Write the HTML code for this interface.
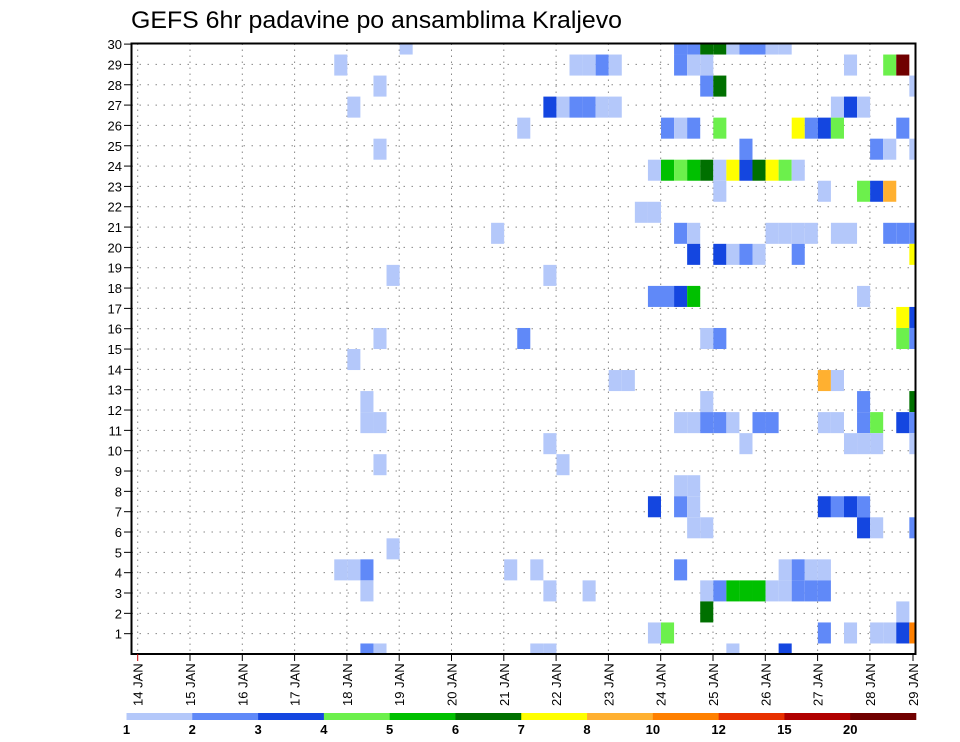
<!DOCTYPE html>
<html><head><meta charset="utf-8"><title>GEFS 6hr padavine</title>
<style>html,body{margin:0;padding:0;background:#fff;}svg{display:block;font-family:"Liberation Sans",sans-serif;}</style>
</head><body>
<svg id="chart" width="960" height="742" viewBox="0 0 960 742" xmlns="http://www.w3.org/2000/svg">
<text x="131" y="28" font-size="24" textLength="491" lengthAdjust="spacingAndGlyphs" fill="#000">GEFS 6hr padavine po ansamblima Kraljevo</text>
<defs><clipPath id="plotclip"><rect x="131.5" y="43.5" width="784" height="610.5"/></clipPath></defs>
<g id="grid"></g>
<g id="cells" clip-path="url(#plotclip)"></g>
<rect x="131.5" y="43.5" width="784" height="610.5" fill="none" stroke="#000" stroke-width="2"/>
<g id="yaxis"></g>
<g id="xaxis"></g>
<g id="legend"></g>
</svg>
<script>
// member, 6h-step index, colour level
const cells = [
[30,20,1],[30,41,2],[30,42,2],[30,43,6],[30,44,6],[30,45,1],[30,46,2],[30,47,2],[30,48,1],[30,49,1],
[29,15,1],[29,33,1],[29,34,1],[29,35,2],[29,36,1],[29,41,2],[29,42,1],[29,43,1],[29,54,1],[29,57,4],[29,58,12],
[28,18,1],[28,43,2],[28,44,6],[28,59,1],
[27,16,1],[27,31,3],[27,32,1],[27,33,2],[27,34,2],[27,35,1],[27,36,1],[27,53,1],[27,54,3],[27,55,1],
[26,29,1],[26,40,2],[26,41,1],[26,42,2],[26,44,4],[26,50,7],[26,51,2],[26,52,3],[26,53,4],[26,58,2],
[25,18,1],[25,46,2],[25,56,2],[25,57,1],[25,59,1],
[24,39,1],[24,40,5],[24,41,4],[24,42,5],[24,43,6],[24,44,1],[24,45,7],[24,46,3],[24,47,6],[24,48,7],[24,49,4],[24,50,1],
[23,44,1],[23,52,1],[23,55,4],[23,56,3],[23,57,8],
[22,38,1],[22,39,1],
[21,27,1],[21,41,2],[21,42,1],[21,48,1],[21,49,1],[21,50,1],[21,51,1],[21,53,1],[21,54,1],[21,57,2],[21,58,2],[21,59,2],
[20,42,3],[20,44,3],[20,45,1],[20,46,2],[20,47,1],[20,50,2],[20,59,7],
[19,19,1],[19,31,1],
[18,39,2],[18,40,2],[18,41,3],[18,42,5],[18,55,1],
[17,58,7],[17,59,3],
[16,18,1],[16,29,2],[16,43,1],[16,44,2],[16,58,4],[16,59,2],
[15,16,1],
[14,36,1],[14,37,1],[14,52,8],[14,53,1],
[13,17,1],[13,43,1],[13,55,2],[13,59,6],
[12,17,1],[12,18,1],[12,41,1],[12,42,1],[12,43,2],[12,44,2],[12,45,1],[12,47,2],[12,48,2],[12,52,1],[12,53,1],[12,55,2],[12,56,4],[12,58,3],[12,59,2],
[11,31,1],[11,46,1],[11,54,1],[11,55,1],[11,56,1],[11,59,1],
[10,18,1],[10,32,1],
[9,41,1],[9,42,1],
[8,39,3],[8,41,2],[8,42,1],[8,52,3],[8,53,2],[8,54,3],[8,55,2],
[7,42,1],[7,43,1],[7,55,3],[7,56,1],[7,59,2],
[6,19,1],
[5,15,1],[5,16,1],[5,17,2],[5,28,1],[5,30,1],[5,41,2],[5,49,1],[5,50,2],[5,51,1],[5,52,1],
[4,17,1],[4,31,1],[4,34,1],[4,43,1],[4,44,2],[4,45,5],[4,46,5],[4,47,5],[4,48,1],[4,49,1],[4,50,2],[4,51,2],[4,52,2],
[3,43,6],[3,58,1],
[2,39,1],[2,40,4],[2,52,2],[2,54,1],[2,56,1],[2,57,1],[2,58,3],[2,59,9],
[1,17,2],[1,18,1],[1,30,1],[1,31,1],[1,45,1],[1,49,3]
];
const levelColors = ["#b4c8fa","#6089f8","#1446e0","#6cf04c","#00c000","#007000","#ffff00","#ffb030","#ff8000","#e83000","#b00000","#700000"];
const legendLabels = ["1","2","3","4","5","6","7","8","10","12","15","20"];
const yTickLabels = [1,2,3,4,5,6,7,8,9,10,11,12,13,14,15,16,17,18,19,20,21,22,23,24,25,26,27,28,29,30];
const dayLabels = [14,15,16,17,18,19,20,21,22,23,24,25,26,27,28,29];

const NS = "http://www.w3.org/2000/svg";
function mk(tag, attrs, parent){const e=document.createElementNS(NS,tag);for(const k in attrs)e.setAttribute(k,attrs[k]);parent.appendChild(e);return e;}
const colW = 13.07, colX0 = 138.2;
const rowH = 21.034, rowY1 = 654;
function xCell(c){return colX0 + c*colW;}
function yMember(m){return rowY1 - (m-1)*rowH;}
function yLabel(r){return 654 - r*20.33;}
function xDay(d){return d>=29 ? 913 : 660.7 + (d-24)*52.3;}

const grid = document.getElementById('grid');
for (let r=1;r<30;r++){
  const l = mk('line',{x1:131.5,x2:915.5,y1:yLabel(r),y2:yLabel(r),stroke:'#888','stroke-width':1,'stroke-dasharray':'1.5,6.5'},grid);
  
  
}
dayLabels.forEach(d=>{
  if(d>=29) return;
  const l = mk('line',{x1:xDay(d),x2:xDay(d),y1:43.5,y2:654,stroke:'#888','stroke-width':1,'stroke-dasharray':'1.5,4.5'},grid);
  
  
});

const cg = document.getElementById('cells');
cells.forEach(([m,c,l])=>{
  const r = mk('rect',{x:xCell(c),y:yMember(m)-rowH/2,width:colW,height:rowH,fill:levelColors[l-1]},cg);
  
  
});

const ya = document.getElementById('yaxis');
yTickLabels.forEach(r=>{
  const y = yLabel(r);
  const t = mk('line',{x1:124,x2:131.5,y1:y,y2:y,stroke:'#000','stroke-width':1},ya);
  
  
  const tx = mk('text',{x:122,y:y+5,'font-size':13,'text-anchor':'end',fill:'#000'},ya);
  tx.textContent = r;
  
  
});

const xa = document.getElementById('xaxis');
dayLabels.forEach(d=>{
  const x = xDay(d);
  const t = mk('line',{x1:x,x2:x,y1:654,y2:661,stroke:d===14?'#c00':'#000','stroke-width':1},xa);
  
  
  const tx = mk('text',{x:0,y:0,'font-size':13,fill:'#000',transform:'translate('+(x+5)+',706) rotate(-90)'},xa);
  tx.textContent = d+' JAN';
  
  
});

const lg = document.getElementById('legend');
const segW = (916-126.5)/levelColors.length;
levelColors.forEach((col,i)=>{
  const r = mk('rect',{x:126.5+i*segW,y:713,width:segW+0.3,height:7,fill:col},lg);
  
  
  const tx = mk('text',{x:126.5+i*segW,y:734,'font-size':13,'font-weight':'bold','text-anchor':'middle',fill:'#000'},lg);
  tx.textContent = legendLabels[i];
  
  
});
</script>
</body></html>
